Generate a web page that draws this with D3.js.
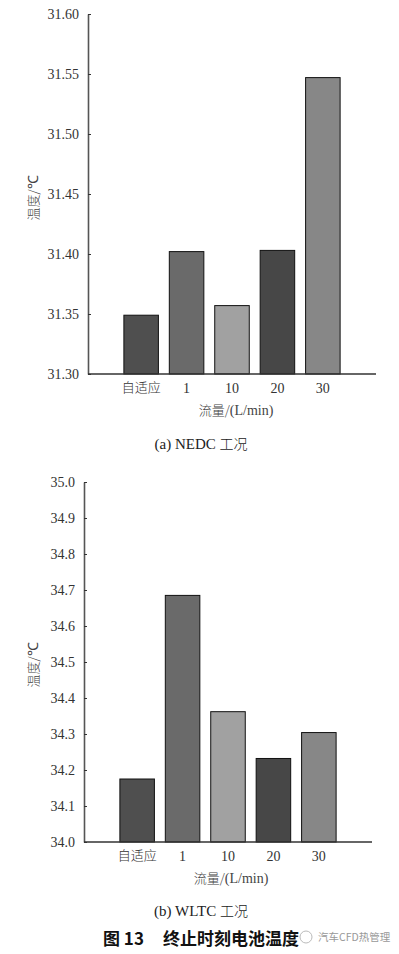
<!doctype html>
<meta charset="utf-8">
<title>终止时刻电池温度</title>
<style>
  body { margin: 0; background: #fff; }
</style>
<svg id="visual" width="399" height="954"></svg>
<script src="https://cdn.jsdelivr.net/npm/d3@7/dist/d3.min.js"></script>
<script>

var SERIF = "'Liberation Serif', 'Times New Roman', serif";
var CJK = "'Noto Sans CJK SC', sans-serif";

// categories (flow rate)
var categories = ["自适应", "1", "10", "20", "30"];
var barColors = ["#4f4f4f", "#6a6a6a", "#a1a1a1", "#474747", "#878787"];

// (a) NEDC
var nedcValues = [31.349, 31.402, 31.357, 31.403, 31.547];
var nedcTicks = [31.30, 31.35, 31.40, 31.45, 31.50, 31.55, 31.60];

// (b) WLTC
var wltcValues = [34.175, 34.685, 34.362, 34.232, 34.304];
var wltcTicks = [34.0, 34.1, 34.2, 34.3, 34.4, 34.5, 34.6, 34.7, 34.8, 34.9, 35.0];

var svg = d3.select("#visual");

function drawPanel(opt) {
  var x = d3.scaleBand()
    .domain(categories)
    .range([opt.left, opt.right])
    .paddingInner(0.24)
    .paddingOuter(0.79);

  var y = d3.scaleLinear()
    .domain(opt.domain)
    .range([opt.bottom, opt.top]);

  var g = svg.append("g");

  // bars
  g.selectAll("rect")
    .data(opt.values)
    .enter()
    .append("rect")
    .attr("x", function(d, i) { return x(categories[i]); })
    .attr("y", function(d) { return y(d); })
    .attr("width", x.bandwidth())
    .attr("height", function(d) { return y(opt.domain[0]) - y(d); })
    .attr("fill", function(d, i) { return barColors[i]; })
    .attr("stroke", "#111")
    .attr("stroke-width", 1);

  // y axis, ticks inward
  var yAxis = g.append("g")
    .attr("transform", "translate(" + opt.left + ",0)")
    .call(d3.axisLeft(y).tickValues(opt.ticks).tickFormat(d3.format(opt.fmt))
      .tickSizeInner(-3).tickSizeOuter(0).tickPadding(9));
  yAxis.select(".domain").attr("stroke", "#555").attr("stroke-width", 1.6);
  yAxis.selectAll(".tick line").attr("stroke", "#333");
  yAxis.selectAll(".tick text")
    .attr("font-family", SERIF)
    .attr("font-size", 14)
    .attr("fill", "#333");

  // x axis line
  var xAxis = g.append("g")
    .attr("transform", "translate(0," + opt.bottom + ")")
    .call(d3.axisBottom(x).tickSize(0).tickPadding(9));
  xAxis.select(".domain")
    .attr("d", "M" + opt.left + ",0H" + opt.right)
    .attr("stroke", "#333").attr("stroke-width", 1.4);
  xAxis.selectAll(".tick text")
    .attr("font-family", function(d) { return d === "自适应" ? CJK : SERIF; })
    .attr("font-size", function(d) { return d === "自适应" ? 13 : 14; })
    .attr("font-weight", function(d) { return d === "自适应" ? 300 : 400; })
    .attr("fill", "#333");

  // axis titles
  var xt = g.append("text")
    .attr("x", opt.xTitleX)
    .attr("y", opt.bottom + 41)
    .attr("text-anchor", "middle")
    .attr("fill", "#444");
  xt.append("tspan").attr("font-family", CJK).attr("font-weight", 300).attr("font-size", 13).text("流量/");
  xt.append("tspan").attr("font-family", SERIF).attr("font-size", 14).text("(L/min)");

  var yt = g.append("text")
    .attr("transform", "translate(38," + opt.yTitleY + ") rotate(-90)")
    .attr("text-anchor", "middle")
    .attr("fill", "#444");
  yt.append("tspan").attr("font-family", CJK).attr("font-weight", 300).attr("font-size", 13).text("温度/");
  yt.append("tspan").attr("font-family", SERIF).attr("font-size", 14).text("℃");

  // caption
  var cap = g.append("text")
    .attr("x", 201)
    .attr("y", opt.captionY)
    .attr("text-anchor", "middle")
    .attr("fill", "#222");
  cap.append("tspan").attr("font-family", SERIF).attr("font-size", 15).text(opt.caption + " ");
  cap.append("tspan").attr("font-family", CJK).attr("font-weight", 300).attr("font-size", 14).text("工况");
}

drawPanel({
  values: nedcValues, ticks: nedcTicks, domain: [31.30, 31.60], fmt: ".2f",
  left: 88, right: 376, top: 14, bottom: 374,
  xTitleX: 236, yTitleY: 198, captionY: 449, caption: "(a) NEDC"
});

drawPanel({
  values: wltcValues, ticks: wltcTicks, domain: [34.0, 35.0], fmt: ".1f",
  left: 84, right: 372, top: 482, bottom: 842,
  xTitleX: 231, yTitleY: 665, captionY: 916, caption: "(b) WLTC"
});

// figure title
var title = svg.append("text")
  .attr("y", 945)
  .attr("font-family", CJK)
  .attr("font-size", 17)
  .attr("font-weight", 700)
  .attr("fill", "#111");
title.append("tspan").attr("x", 103).text("图 13");
title.append("tspan").attr("x", 163).text("终止时刻电池温度");

// watermark
svg.append("circle")
  .attr("cx", 306).attr("cy", 937).attr("r", 6)
  .attr("fill", "none").attr("stroke", "#bbb").attr("stroke-width", 1);
svg.append("text")
  .attr("x", 318).attr("y", 941)
  .attr("font-family", CJK)
  .attr("font-size", 10.5)
  .attr("fill", "#999")
  .text("汽车CFD热管理");

</script>
